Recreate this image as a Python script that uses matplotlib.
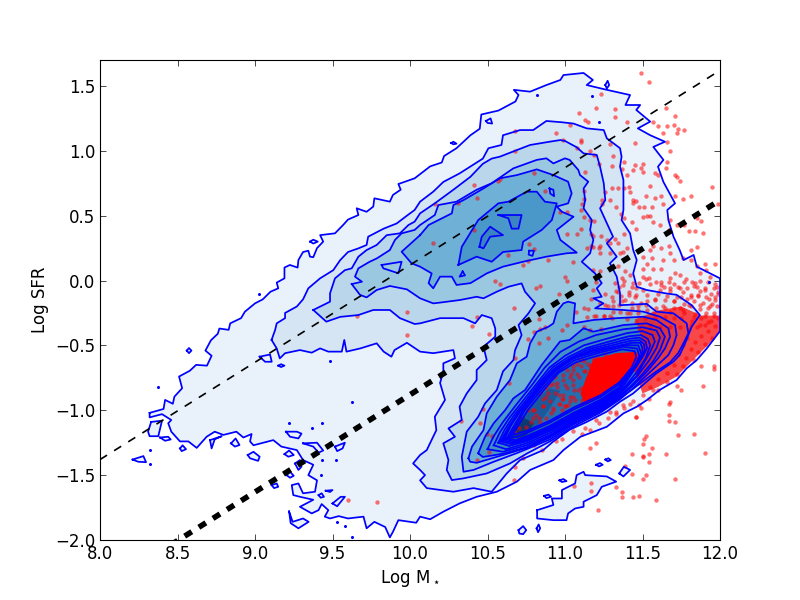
import numpy as np
import matplotlib
matplotlib.use('Agg')
import matplotlib.pyplot as plt

plt.rcParams['lines.scale_dashes'] = False
plt.rcParams['font.size'] = 12
plt.rcParams['mathtext.default'] = 'regular'
plt.rcParams['xtick.direction'] = 'in'
plt.rcParams['ytick.direction'] = 'in'
plt.rcParams['xtick.top'] = True
plt.rcParams['ytick.right'] = True

# Outlines, (log mass, log sfr)
level1 = [(8.32,-1.02),(8.41,-0.99),(8.42,-0.92),(8.47,-0.95),(8.48,-0.895),(8.53,-0.83),(8.51,-0.74),(8.58,-0.695),(8.62,-0.65),(8.69,-0.656),
    (8.72,-0.58),(8.68,-0.54),(8.716,-0.46),(8.76,-0.41),(8.77,-0.37),(8.83,-0.38),(8.84,-0.33),(8.91,-0.29),(8.935,-0.24),(9.0,-0.176),(9.05,-0.145),
    (9.10,-0.086),(9.15,-0.06),(9.14,-0.016),(9.19,0.017),(9.19,0.10),(9.225,0.12),(9.275,0.10),(9.28,0.158),(9.31,0.22),(9.344,0.23),(9.355,0.184),
    (9.376,0.18),(9.40,0.25),(9.44,0.30),(9.42,0.35),(9.516,0.364),(9.57,0.43),(9.60,0.47),(9.667,0.505),(9.656,0.557),(9.72,0.53),(9.763,0.57),
    (9.77,0.634),(9.87,0.608),(9.89,0.66),(9.94,0.70),(9.925,0.744),(10.03,0.788),(10.065,0.82),(10.13,0.88),(10.205,0.91),(10.22,0.96),(10.30,1.02),
    (10.39,1.12),(10.45,1.17),(10.46,1.28),(10.57,1.31),(10.68,1.38),(10.70,1.43),(10.67,1.47),(10.775,1.456),(10.88,1.507),(10.97,1.546),(10.99,1.584),
    (11.12,1.60),(11.18,1.546),(11.14,1.507),(11.27,1.47),(11.42,1.43),(11.39,1.353),(11.485,1.353),(11.46,1.315),(11.55,1.225),(11.47,1.173),(11.55,1.12),
    (11.645,1.07),(11.57,1.03),(11.635,0.93),(11.60,0.878),(11.635,0.76),(11.71,0.595),(11.66,0.544),(11.667,0.466),(11.70,0.338),(11.74,0.235),
    (11.765,0.158),(11.83,0.197),(11.85,0.107),(11.915,0.068),(12.0,0.017),(12.0,-0.39),(11.915,-0.523),(11.85,-0.613),(11.785,-0.677),(11.72,-0.767),
    (11.61,-0.844),(11.53,-0.92),(11.463,-0.973),(11.377,-1.024),(11.27,-1.127),(11.1,-1.204),(10.99,-1.307),(10.925,-1.384),(10.775,-1.46),(10.69,-1.55),
    (10.56,-1.628),(10.43,-1.667),(10.32,-1.718),(10.215,-1.782),(10.13,-1.84),(10.065,-1.82),(10.04,-1.867),(9.925,-1.847),(9.89,-1.937),(9.87,-1.98),
    (9.84,-1.90),(9.77,-1.86),(9.72,-1.91),(9.70,-1.82),(9.60,-1.834),(9.54,-1.816),(9.484,-1.834),(9.45,-1.82),(9.473,-1.77),(9.43,-1.723),(9.41,-1.77),
    (9.366,-1.795),(9.29,-1.744),(9.376,-1.69),(9.29,-1.667),(9.247,-1.654),(9.237,-1.577),(9.28,-1.564),(9.31,-1.64),(9.387,-1.628),(9.40,-1.54),
    (9.344,-1.5),(9.376,-1.42),(9.31,-1.384),(9.27,-1.307),(9.17,-1.28),(9.118,-1.23),(8.99,-1.27),(8.968,-1.24),(8.978,-1.183),(8.925,-1.21),(8.88,-1.165),
    (8.796,-1.19),(8.74,-1.165),(8.688,-1.204),(8.624,-1.29),(8.57,-1.24),(8.516,-1.24),(8.46,-1.165),(8.44,-1.10),(8.46,-1.075),(8.40,-1.03),(8.32,-1.055)]

level2 = [(9.107,-0.458),(9.13,-0.38),(9.14,-0.33),(9.194,-0.29),(9.194,-0.25),(9.27,-0.20),(9.31,-0.145),(9.344,-0.06),(9.42,0.017),(9.505,0.08),
    (9.55,0.158),(9.60,0.22),(9.667,0.248),(9.72,0.274),(9.73,0.338),(9.83,0.40),(9.914,0.44),(9.98,0.50),(10.03,0.544),(10.065,0.608),(10.15,0.685),
    (10.215,0.76),(10.32,0.826),(10.47,0.94),(10.506,1.02),(10.59,1.045),(10.60,1.12),(10.71,1.16),(10.795,1.16),(10.88,1.23),(10.98,1.22),(11.055,1.21),
    (11.14,1.173),(11.25,1.16),(11.27,1.096),(11.355,1.02),(11.365,0.955),(11.355,0.878),(11.377,0.775),(11.377,0.67),(11.377,0.544),(11.365,0.466),
    (11.42,0.363),(11.44,0.235),(11.463,0.158),(11.44,0.055),(11.463,-0.048),(11.527,-0.073),(11.656,-0.10),(11.72,-0.11),(11.817,-0.19),(11.87,-0.266),
    (11.817,-0.356),(11.775,-0.484),(11.74,-0.574),(11.70,-0.625),(11.59,-0.715),(11.527,-0.78),(11.44,-0.87),(11.355,-0.934),(11.27,-1.01),(11.14,-1.09),
    (11.03,-1.15),(10.925,-1.24),(10.86,-1.307),(10.71,-1.384),(10.624,-1.487),(10.527,-1.628),(10.41,-1.60),(10.28,-1.628),(10.108,-1.60),(10.065,-1.54),
    (10.097,-1.50),(10.065,-1.46),(10.02,-1.41),(10.065,-1.345),(10.108,-1.307),(10.17,-1.153),(10.16,-1.05),(10.226,-0.92),(10.194,-0.79),(10.215,-0.70),
    (10.215,-0.638),(10.29,-0.60),(10.28,-0.536),(10.15,-0.56),(10.065,-0.548),(9.98,-0.48),(9.90,-0.536),(9.88,-0.587),(9.83,-0.548),(9.785,-0.484),
    (9.68,-0.523),(9.59,-0.548),(9.576,-0.458),(9.56,-0.548),(9.473,-0.548),(9.42,-0.523),(9.366,-0.556),(9.29,-0.536),(9.194,-0.56),(9.16,-0.60),(9.14,-0.523)]

level3 = [(9.376,-0.227),(9.484,-0.163),(9.484,-0.099),(9.516,0.017),(9.58,0.08),(9.624,0.094),(9.667,0.184),(9.72,0.235),(9.785,0.274),(9.85,0.35),
    (9.935,0.364),(9.99,0.428),(10.03,0.454),(10.065,0.518),(10.16,0.595),(10.28,0.70),(10.39,0.80),(10.47,0.90),(10.527,0.94),(10.58,0.955),(10.69,1.006),
    (10.775,1.045),(10.90,1.07),(10.97,1.083),(11.0,1.076),(11.076,1.027),(11.12,0.98),(11.205,0.968),(11.226,0.878),(11.25,0.75),(11.26,0.62),(11.226,0.557),
    (11.29,0.39),(11.31,0.338),(11.27,0.287),(11.334,0.184),(11.29,0.133),(11.334,0.03),(11.355,-0.10),(11.355,-0.19),(11.527,-0.18),(11.59,-0.24),
    (11.70,-0.253),(11.785,-0.33),(11.796,-0.407),(11.764,-0.484),(11.73,-0.56),(11.678,-0.63),(11.59,-0.70),(11.50,-0.78),(11.40,-0.87),(11.35,-0.92),
    (11.226,-1.02),(11.054,-1.125),(10.903,-1.24),(10.752,-1.335),(10.645,-1.41),(10.495,-1.487),(10.345,-1.525),(10.27,-1.538),(10.237,-1.46),(10.248,-1.384),
    (10.215,-1.255),(10.29,-1.204),(10.248,-1.14),(10.334,-1.075),(10.32,-0.972),(10.366,-0.87),(10.43,-0.767),(10.43,-0.69),(10.495,-0.613),(10.474,-0.51),
    (10.55,-0.433),(10.55,-0.368),(10.527,-0.29),(10.463,-0.266),(10.42,-0.33),(10.345,-0.29),(10.194,-0.29),(10.065,-0.33),(10.03,-0.335),(9.935,-0.29),
    (9.87,-0.227),(9.763,-0.227),(9.667,-0.266),(9.55,-0.28),(9.46,-0.317)]

level4 = [(9.624,-0.027),(9.69,-0.009),(9.645,0.03),(9.667,0.094),(9.74,0.145),(9.785,0.17),(9.87,0.235),(9.903,0.313),(9.946,0.364),(10.03,0.39),(10.065,0.428),
    (10.16,0.505),(10.183,0.582),(10.30,0.608),(10.43,0.70),(10.527,0.75),(10.667,0.865),(10.818,0.93),(10.88,0.942),(10.925,0.903),(11.0,0.942),(11.03,0.93),
    (11.086,0.852),(11.097,0.813),(11.15,0.762),(11.12,0.71),(11.13,0.62),(11.12,0.557),(11.173,0.466),(11.162,0.39),(11.183,0.313),(11.162,0.21),(11.108,0.145),
    (11.194,0.055),(11.237,-0.02),(11.205,-0.06),(11.237,-0.125),(11.183,-0.137),(11.248,-0.176),(11.194,-0.214),(11.377,-0.227),(11.505,-0.24),(11.613,-0.279),
    (11.71,-0.343),(11.72,-0.42),(11.70,-0.497),(11.667,-0.574),(11.59,-0.66),(11.50,-0.76),(11.43,-0.84),(11.35,-0.91),(11.226,-1.01),(11.054,-1.11),(10.903,-1.225),
    (10.752,-1.30),(10.69,-1.33),(10.54,-1.397),(10.41,-1.46),(10.345,-1.474),(10.334,-1.358),(10.366,-1.165),(10.44,-1.05),(10.484,-0.947),(10.56,-0.844),
    (10.60,-0.70),(10.667,-0.613),(10.678,-0.536),(10.72,-0.42),(10.70,-0.343),(10.764,-0.253),(10.807,-0.176),(10.742,-0.086),(10.72,-0.022),(10.635,-0.048),
    (10.56,-0.086),(10.474,-0.137),(10.43,-0.125),(10.323,-0.15),(10.194,-0.17),(10.15,-0.176),(10.065,-0.137),(9.98,-0.068),(9.87,-0.042),(9.785,-0.073),
    (9.72,-0.13),(9.677,-0.11)]

level5_band = [(10.065,0.35),(10.12,0.428),(10.27,0.518),(10.28,0.582),(10.345,0.62),(10.474,0.71),(10.58,0.788),(10.69,0.813),(10.818,0.857),(10.925,0.813),
    (11.02,0.762),(11.043,0.672),(11.02,0.595),(10.947,0.57),(10.98,0.53),(11.055,0.492),(11.0,0.44),(10.947,0.39),(10.97,0.313),(11.076,0.215),(11.01,0.21),
    (10.88,0.184),(10.73,0.145),(10.6,0.107),(10.495,0.055),(10.39,-0.02),(10.30,-0.034),(10.27,0.03),(10.194,0.03),(10.15,-0.06),(10.12,-0.02),(10.14,0.055),
    (10.065,0.107),(10.01,0.133),(9.946,0.222)]

level6_band = [(10.312,0.12),(10.334,0.26),(10.44,0.466),(10.57,0.595),(10.635,0.608),(10.753,0.685),(10.818,0.685),(10.87,0.608),(10.947,0.595),(10.915,0.466),
    (10.85,0.39),(10.73,0.30),(10.72,0.235),(10.6,0.22),(10.527,0.145),(10.43,0.184)]

level7_band_a = [(10.448,0.26),(10.463,0.338),(10.517,0.415),(10.6,0.35),(10.517,0.338),(10.474,0.248)]
level7_band_b = [(10.57,0.505),(10.72,0.505),(10.70,0.40),(10.656,0.40),(10.635,0.48)]

level5_blob = [(10.377,-1.37),(10.40,-1.28),(10.474,-1.153),(10.495,-1.024),(10.56,-0.895),(10.645,-0.767),(10.689,-0.638),(10.753,-0.587),(10.775,-0.484),
    (10.818,-0.394),(10.893,-0.356),(10.925,-0.33),(10.947,-0.24),(10.99,-0.176),(11.02,-0.163),(11.065,-0.176),(11.054,-0.33),(11.183,-0.304),(11.334,-0.29),
    (11.505,-0.279),(11.59,-0.304),(11.667,-0.368),(11.678,-0.433),(11.645,-0.523),(11.60,-0.60),(11.53,-0.70),(11.44,-0.81),(11.35,-0.90),(11.226,-1.00),
    (11.054,-1.10),(10.903,-1.21),(10.752,-1.29),(10.6,-1.345),(10.43,-1.405),(10.388,-1.397)]

level6_blob = [(10.44,-1.332),(10.484,-1.204),(10.54,-1.10),(10.613,-1.0),(10.667,-0.908),(10.742,-0.844),(10.85,-0.65),(10.968,-0.47),(11.03,-0.458),(11.12,-0.368),
    (11.183,-0.394),(11.377,-0.343),(11.527,-0.33),(11.613,-0.368),(11.645,-0.433),(11.613,-0.536),(11.57,-0.62),(11.50,-0.72),(11.42,-0.82),(11.35,-0.89),
    (11.226,-0.99),(11.054,-1.09),(10.903,-1.20),(10.752,-1.285),(10.6,-1.335),(10.47,-1.36)]

level7 = [(10.50,-1.30),(10.54,-1.20),(10.60,-1.09),(10.69,-0.95),(10.79,-0.80),(10.87,-0.67),(10.97,-0.55),(11.09,-0.47),(11.20,-0.42),(11.38,-0.375),(11.50,-0.36),
    (11.59,-0.385),(11.613,-0.44),(11.59,-0.52),(11.54,-0.62),(11.47,-0.73),(11.40,-0.82),(11.35,-0.88),(11.226,-0.98),(11.054,-1.08),(10.903,-1.19),(10.752,-1.27),(10.6,-1.32)]
level8 = [(10.54,-1.27),(10.58,-1.17),(10.64,-1.06),(10.72,-0.94),(10.82,-0.79),(10.90,-0.67),(11.0,-0.58),(11.12,-0.50),(11.25,-0.455),(11.40,-0.405),(11.50,-0.39),
    (11.565,-0.42),(11.58,-0.47),(11.55,-0.55),(11.50,-0.65),(11.46,-0.74),(11.40,-0.81),(11.35,-0.87),(11.226,-0.97),(11.054,-1.07),(10.903,-1.175),(10.752,-1.255),(10.62,-1.30)]
level9 = [(10.57,-1.25),(10.61,-1.15),(10.67,-1.04),(10.75,-0.92),(10.84,-0.78),(10.92,-0.67),(11.02,-0.59),(11.14,-0.52),(11.27,-0.475),(11.41,-0.43),(11.49,-0.42),
    (11.535,-0.45),(11.55,-0.50),(11.52,-0.60),(11.46,-0.71),(11.40,-0.80),(11.35,-0.86),(11.226,-0.96),(11.054,-1.06),(10.903,-1.16),(10.752,-1.24),(10.64,-1.275)]
level10 = [(10.585,-1.24),(10.63,-1.14),(10.69,-1.03),(10.77,-0.91),(10.85,-0.78),(10.93,-0.68),(11.03,-0.60),(11.15,-0.53),(11.28,-0.49),(11.41,-0.45),(11.48,-0.44),
    (11.52,-0.47),(11.53,-0.52),(11.50,-0.59),(11.44,-0.70),(11.39,-0.79),(11.35,-0.85),(11.226,-0.95),(11.054,-1.05),(10.903,-1.15),(10.752,-1.23),(10.65,-1.26)]
level11 = [(10.60,-1.23),(10.64,-1.13),(10.70,-1.02),(10.78,-0.90),(10.86,-0.78),(10.94,-0.68),(11.04,-0.605),(11.16,-0.54),(11.30,-0.50),(11.42,-0.465),(11.48,-0.46),
    (11.51,-0.49),(11.515,-0.535),(11.49,-0.60),(11.43,-0.70),(11.38,-0.785),(11.35,-0.84),(11.226,-0.94),(11.054,-1.04),(10.903,-1.14),(10.752,-1.22),(10.66,-1.25)]
level12 = [(10.61,-1.22),(10.65,-1.12),(10.71,-1.01),(10.79,-0.89),(10.87,-0.775),(10.945,-0.685),(11.045,-0.605),(11.17,-0.545),(11.32,-0.51),(11.43,-0.48),(11.485,-0.48),
    (11.50,-0.52),(11.50,-0.56),(11.47,-0.62),(11.42,-0.71),(11.37,-0.78),(11.35,-0.83),(11.226,-0.93),(11.054,-1.03),(10.903,-1.13),(10.752,-1.21),(10.67,-1.24)]
level13 = [(10.624,-1.217),(10.73,-0.998),(10.86,-0.80),(10.946,-0.69),(11.054,-0.60),(11.204,-0.548),(11.376,-0.497),(11.473,-0.50),(11.494,-0.57),(11.46,-0.66),
    (11.35,-0.82),(11.226,-0.92),(11.054,-1.02),(10.903,-1.12),(10.752,-1.20),(10.68,-1.23)]
level14 = [(10.64,-1.21),(10.74,-1.0),(10.87,-0.81),(10.955,-0.70),(11.06,-0.615),(11.21,-0.56),(11.376,-0.51),(11.465,-0.525),(11.48,-0.58),(11.45,-0.66),
    (11.35,-0.80),(11.226,-0.90),(11.054,-0.995),(10.903,-1.095),(10.752,-1.175),(10.69,-1.205)]
level15 = [(10.66,-1.19),(10.76,-1.0),(10.88,-0.82),(10.96,-0.71),(11.07,-0.63),(11.21,-0.58),(11.37,-0.53),(11.45,-0.545),(11.46,-0.59),(11.43,-0.67),
    (11.35,-0.785),(11.226,-0.885),(11.054,-0.98),(10.903,-1.08),(10.752,-1.16)]

core_mid = [(10.62,-1.23),(10.68,-1.09),(10.78,-0.95),(10.90,-0.83),(10.97,-0.85),(10.90,-0.99),(10.78,-1.19),(10.68,-1.23)]
core_tip = [(10.62,-1.23),(10.66,-1.13),(10.72,-1.05),(10.80,-1.10),(10.75,-1.2)]

islands = [[(8.33,-1.09),(8.40,-1.08),(8.376,-1.20),(8.32,-1.20),(8.31,-1.165)],
    [(8.387,-1.21),(8.44,-1.204),(8.456,-1.225),(8.42,-1.235)],
    [(8.516,-1.294),(8.533,-1.27),(8.555,-1.30),(8.527,-1.315)],
    [(8.21,-1.38),(8.28,-1.353),(8.297,-1.40),(8.247,-1.397)],
    [(8.71,-1.23),(8.785,-1.2),(8.74,-1.224),(8.72,-1.294)],
    [(8.845,-1.255),(8.875,-1.217),(8.90,-1.268),(8.87,-1.28)],
    [(8.953,-1.345),(8.99,-1.32),(9.03,-1.358),(9.02,-1.39),(8.968,-1.37)],
    [(9.19,-1.338),(9.22,-1.31),(9.25,-1.345),(9.215,-1.358)],
    [(9.2,-1.165),(9.27,-1.165),(9.30,-1.18),(9.28,-1.217),(9.226,-1.204)],
    [(9.31,-1.255),(9.40,-1.25),(9.44,-1.31),(9.41,-1.327),(9.376,-1.28)],
    [(9.516,-1.28),(9.58,-1.25),(9.565,-1.294),(9.53,-1.315)],
    [(9.258,-1.41),(9.29,-1.384),(9.30,-1.435),(9.28,-1.46)],
    [(9.204,-1.50),(9.226,-1.474),(9.25,-1.505),(9.226,-1.52)],
    [(9.107,-1.577),(9.14,-1.564),(9.15,-1.59),(9.123,-1.60)],
    [(9.22,-1.78),(9.243,-1.86),(9.31,-1.834),(9.346,-1.86),(9.28,-1.91),(9.23,-1.87)],
    [(9.50,-1.718),(9.553,-1.667),(9.58,-1.667),(9.53,-1.74)],
    [(9.41,-1.654),(9.43,-1.64),(9.445,-1.667),(9.424,-1.674)],
    [(9.456,-1.62),(9.5,-1.615),(9.484,-1.63)],
    [(9.03,-0.587),(9.097,-0.57),(9.108,-0.626),(9.065,-0.626)],
    [(8.56,-0.54),(8.574,-0.52),(8.59,-0.54),(8.574,-0.56)],
    [(9.15,-0.656),(9.168,-0.645),(9.19,-0.656),(9.168,-0.667)],
    [(9.355,0.30),(9.376,0.315),(9.405,0.30),(9.376,0.285)],
    [(10.265,1.06),(10.28,1.07),(10.30,1.055),(10.28,1.05)],
    [(10.49,1.23),(10.52,1.25),(10.53,1.21),(10.50,1.215)],
    [(11.26,1.507),(11.275,1.54),(11.285,1.507),(11.27,1.48)],
    [(10.82,-1.77),(10.925,-1.73),(10.915,-1.68),(10.98,-1.68),(10.98,-1.615),(11.065,-1.564),(11.075,-1.5),(11.12,-1.474),(11.13,-1.5),(11.27,-1.51),
     (11.33,-1.55),(11.237,-1.59),(11.205,-1.654),(11.12,-1.705),(11.12,-1.744),(11.065,-1.757),(11.02,-1.795),(11.01,-1.847),(10.925,-1.847),(10.82,-1.834)],
    [(11.35,-1.487),(11.38,-1.435),(11.42,-1.46),(11.377,-1.51)],
    [(10.70,-1.924),(10.73,-1.893),(10.75,-1.924),(10.73,-1.955),(10.705,-1.95)],
    [(10.817,-1.91),(10.83,-1.88),(10.84,-1.91),(10.826,-1.94)],
    [(10.865,-1.66),(10.893,-1.65),(10.91,-1.667),(10.88,-1.677)],
    [(10.964,-1.54),(10.99,-1.53),(11.01,-1.546),(10.98,-1.553)],
    [(11.2,-1.42),(11.226,-1.407),(11.243,-1.42),(11.22,-1.433)],
    [(11.26,-1.38),(11.28,-1.37),(11.295,-1.384),(11.276,-1.394)]]

# single small specks inside and around the outer contour
speck_x = [8.376,9.484,9.624,9.217,9.37,9.43,9.43,9.523,9.424,8.32,9.527,9.58,9.624,9.028,10.82,11.175,11.22,11.93,8.325]
speck_y = [-0.818,-0.62,-0.94,-1.10,-1.14,-1.10,-1.38,-1.38,-1.5,-1.417,-1.86,-1.893,-1.975,-0.1,1.43,1.42,1.22,-0.01,-1.305]

band_holes = [[(9.817,0.12),(9.946,0.145),(9.925,0.056),(9.828,0.094)],
    [(10.9,0.71),(10.925,0.70),(10.93,0.65),(10.905,0.67)],
    [(10.77,0.23),(10.80,0.23),(10.79,0.19),(10.765,0.20)],
    [(10.34,0.07),(10.32,0.03),(10.355,0.04)]]

red_pts = [(11.49,1.60),(11.54,1.53),(11.23,1.44),(11.20,1.33),(11.32,1.32),(11.09,1.29),(11.13,1.24),(11.15,1.22),(11.32,1.26),(11.40,1.22),(11.65,1.33),(11.71,1.27),
    (11.57,1.22),(11.60,1.19),(11.66,1.19),(11.70,1.20),(11.73,1.17),(11.77,1.16),(11.72,1.14),(11.63,1.14),(11.45,1.06),(11.66,1.07),(11.68,1.00),(11.29,1.05),(11.10,1.08),
    (11.10,1.07),(10.99,1.08),(11.03,1.20),(10.94,1.14),(10.68,1.15),(10.68,1.00),(11.08,1.02),(11.16,1.00),(11.19,0.97),(11.31,0.96),(11.30,0.88),(11.22,0.90),(11.13,0.84),
    (11.37,0.86),(11.38,0.91),(11.45,0.89),(11.50,0.90),(11.49,0.87),(11.50,0.84),(11.44,0.85),(11.40,0.81),(11.58,0.83),(11.60,0.81),(11.65,0.87),(11.66,0.91),(11.71,0.81),
    (11.72,0.80),(11.74,0.77),(11.95,0.72),(11.55,0.73),(11.30,0.71),(11.34,0.71),(11.38,0.71),(11.41,0.72),(11.42,0.68),(11.26,0.68),(11.12,0.69),(11.12,0.63),(11.11,0.59),
    (11.10,0.54),(11.12,0.49),(11.16,0.47),(11.19,0.46),(11.44,0.62),(11.44,0.60),(11.46,0.61),(11.48,0.57),(11.51,0.57),(11.52,0.65),(11.58,0.64),(11.62,0.65),(11.71,0.65),
    (11.76,0.63),(11.81,0.65),(11.99,0.59),(11.63,0.59),(11.56,0.57),(11.55,0.50),(11.53,0.50),(11.50,0.49),(11.68,0.47),(11.77,0.43),(11.85,0.48),(11.88,0.46),(11.80,0.38),
    (11.84,0.38),(11.89,0.37),(11.24,0.59),(11.24,0.62),(11.29,0.62),(11.33,0.57),(11.36,0.51),(11.38,0.48),(11.43,0.45),(11.46,0.40),(11.57,0.45),(11.61,0.43),(11.67,0.39),
    (11.72,0.43),(11.01,0.36),(11.08,0.36),(11.10,0.40),(11.17,0.36),(11.18,0.34),(11.23,0.34),(11.27,0.31),(11.32,0.32),(11.38,0.36),(11.01,0.53),(10.97,0.53),(10.58,0.78),
    (10.57,0.77),(10.41,0.74),(10.43,0.64),(10.31,0.60),(10.16,0.59),(10.15,0.29),(10.41,0.39),(10.80,0.83),(10.87,0.69),(10.77,0.28),(10.80,0.24),(10.63,0.20),(10.89,0.16),
    (10.76,0.15),(10.73,0.12),(10.55,0.00),(10.58,-0.03),(11.05,0.14),(11.0,0.03),(11.01,0.0),(10.84,-0.04),(10.81,-0.06),(10.96,-0.10),(11.14,0.25),(11.18,0.26),(11.22,0.25),
    # lower sparse part
    (11.96,-0.66),(11.96,-0.68),(11.89,-0.81),(11.875,-0.66),(11.75,-0.84),(11.72,-0.81),(11.67,-0.95),(11.68,-0.94),(11.67,-1.04),(11.67,-1.08),(11.71,-1.09),(11.73,-1.19),
    (11.83,-1.18),(11.52,-1.20),(11.51,-1.22),(11.50,-1.26),(11.56,-1.29),(11.90,-1.33),(11.65,-1.34),(11.54,-1.34),(11.50,-1.35),(11.50,-1.36),(11.54,-1.40),(11.43,-1.34),
    (11.39,-1.43),(11.43,-1.49),(11.52,-1.50),(11.50,-1.53),(11.71,-1.53),(11.17,-1.56),(11.17,-1.62),(11.33,-1.59),(11.37,-1.63),(11.37,-1.67),(11.44,-1.67),(11.48,-1.66),
    (11.59,-1.69),(11.21,-1.77),(11.06,-1.58),(11.16,-1.29),(11.20,-1.25),(11.46,-1.05),(10.67,-1.54),(10.68,-1.44),(10.43,-1.38),(10.51,-1.32),(10.53,-1.20),(10.495,-1.18),
    (10.45,-1.10),(10.33,-1.08),(10.47,-0.99),(10.64,-0.79),(10.68,-0.60),(10.40,-0.35),(10.43,-0.28),(10.51,-0.41),(10.67,-0.21),(10.83,-0.30),(10.80,-0.40),(10.76,-0.45),
    (10.84,-0.37),(10.87,-0.36),(11.07,-0.24),(11.12,-0.21),(11.15,-0.22),(11.20,-0.27),(11.25,-0.27),(11.29,-0.27),(11.14,-0.28),(11.12,-0.355),(11.16,-0.38),(11.23,-0.37),
    (11.01,-0.34),(10.98,-0.38),(10.89,-0.445),(10.83,-0.48),(10.85,-1.31),(10.94,-1.24),(10.80,-1.27),(10.73,-1.37),(9.60,-1.69),(9.79,-1.71),(9.98,-0.42),(9.98,-0.24),
    (9.66,-0.27),
    # on the ridge
    (10.80,-1.0),(10.86,-0.97),(10.81,-1.04),(10.76,-1.0),(10.71,-1.05),(10.89,-0.87),(10.95,-0.82),(10.99,-0.77),(11.01,-0.69),(11.075,-0.64),(11.12,-0.70),(10.97,-0.95),
    (11.03,-0.90),(10.925,-0.985),(11.0,-0.97),(10.88,-0.83),(10.84,-0.87),(10.935,-0.74),(11.01,-0.83),(11.05,-0.77),(11.10,-0.83),(11.14,-0.77),(11.065,-0.92),(10.75,-1.13),
    (10.90,-0.93),(10.96,-0.88),(11.04,-0.72),(11.06,-0.84),(10.83,-1.06),(10.78,-1.09),(10.91,-1.02),(10.98,-1.0),(11.02,-0.96),(10.86,-0.91),(10.92,-0.80),(10.99,-0.91),
    (11.12,-0.62),(11.16,-0.66),(11.19,-0.60),(11.08,-0.72),(11.13,-0.90),(11.18,-0.86),(11.05,-0.66),(11.11,-0.92),(10.70,-1.14),(10.68,-1.17),
    (11.05,-0.69),(11.10,-0.66),(11.03,-0.74),(11.09,-0.74),(11.13,-0.70),(11.16,-0.75),(10.99,-0.73),(10.95,-0.79),(11.0,-0.805),(11.05,-0.805),(10.90,-0.805),(10.86,-0.79),
    (10.935,-0.87),(10.99,-0.88),(10.88,-0.895),(11.05,-0.895),(11.10,-0.95),(10.96,-0.95),(11.0,-0.97),(10.86,-0.97),(10.795,-0.998),(10.925,-0.998),(10.84,-1.09),(10.795,-1.06),
    (10.88,-1.06),(10.98,-0.91),(11.03,-0.93),(11.13,-0.82),(11.17,-0.84),(11.085,-0.84),(11.20,-0.79),(11.235,-0.73),(11.28,-0.66),(11.215,-0.66),(11.29,-0.74),(11.25,-0.82),
    (11.18,-0.895),(11.15,-0.64),(11.10,-0.61),(11.215,-0.60),(11.26,-0.57),(11.2,-1.075),(11.33,-1.01),(11.42,-0.95),(11.57,-0.84),(11.46,-1.05),(11.49,-0.985),(11.376,-0.96),
    (11.29,-1.01),(11.13,-1.14),
    # the busy patch above the ridge
    (11.57,0.27),(11.55,0.235),(11.62,0.25),(11.68,0.21),(11.67,0.27),(11.505,0.18),(11.56,0.17),(11.63,0.16),(11.70,0.16),(11.76,0.17),(11.81,0.235),(11.85,0.26),(11.81,0.16),
    (11.85,0.11),(11.90,0.13),(11.97,0.13),(11.91,0.08),(11.87,0.055),(11.53,0.13),(11.505,0.09),(11.57,0.09),(11.62,0.09),(11.71,0.055),(11.74,0.04),(11.68,0.02),(11.59,-0.01),
    (11.62,-0.035),(11.67,-0.01),(11.505,0.03),(11.54,0.02),(11.48,-0.02),(11.77,-0.01),(11.82,-0.01),(11.87,0.0),(11.935,0.03),(11.785,-0.06),(11.85,-0.05),(11.90,-0.06),
    (11.96,-0.06),(11.99,-0.10),(11.68,-0.06),(11.73,-0.05),(11.61,-0.07),(11.376,0.22),(11.355,0.21),(11.40,0.25),(11.29,0.21),(11.225,0.21),(11.34,0.11),(11.39,0.07),(11.42,0.04),
    (11.365,0.02),(11.32,-0.02),(11.376,-0.035),(11.43,-0.05),(11.46,-0.11),(11.41,-0.11),(11.34,-0.09),(11.30,-0.125),(11.26,-0.10),(11.225,-0.175),(11.26,-0.19),(11.31,-0.20),
    (11.365,-0.16),(11.43,-0.175),(11.47,-0.20),(11.53,-0.16),(11.58,-0.14),(11.645,-0.15),(11.70,-0.16),(11.75,-0.125),(11.81,-0.125),(11.86,-0.11),(11.91,-0.125),(11.97,-0.15),
    (12.0,-0.20),(11.935,-0.20),(11.87,-0.19),(11.81,-0.20),(11.76,-0.23),(11.70,-0.215),(11.645,-0.215),(11.59,-0.215),(11.53,-0.23),(11.47,-0.25),(11.42,-0.25),(11.355,-0.24),
    (11.19,-0.27),(11.25,-0.27),(11.30,-0.29),(11.40,-0.30),(11.46,-0.32),(11.515,-0.29),(11.58,-0.29),(11.645,-0.28),(11.70,-0.29),(11.75,-0.29),(11.83,-0.28),(11.90,-0.27),
    (11.96,-0.25),(11.925,-0.32),(11.87,-0.34),(11.81,-0.34),(11.74,-0.36),(11.68,-0.36),(11.61,-0.36),(11.55,-0.34),(11.48,-0.37),(11.18,-0.07),(11.17,-0.14),(11.20,-0.01),
    (11.225,0.07),(11.18,0.08),(11.225,0.27),(11.17,0.27),(11.29,0.29),(11.34,0.29),
    # the thick cloud to the right
    (11.38,0.00),(11.44,-0.02),(11.52,0.01),(11.62,-0.01),(11.70,-0.03),(11.78,0.01),(11.84,-0.02),(11.92,-0.01),(11.97,-0.03),(11.35,-0.05),(11.46,-0.06),(11.55,-0.03),
    (11.64,-0.05),(11.74,-0.06),(11.83,-0.04),(11.90,-0.07),(11.98,-0.05),(11.33,-0.08),(11.41,-0.09),(11.50,-0.07),(11.60,-0.10),(11.68,-0.08),(11.76,-0.09),(11.81,-0.11),
    (11.87,-0.08),(11.94,-0.10),(11.99,-0.09),(11.36,-0.12),(11.45,-0.13),(11.53,-0.11),(11.66,-0.12),(11.72,-0.13),(11.79,-0.14),(11.86,-0.12),(11.93,-0.14),(11.97,-0.13),
    (11.31,-0.16),(11.39,-0.15),(11.49,-0.17),(11.58,-0.15),(11.70,-0.16),(11.77,-0.18),(11.83,-0.16),(11.89,-0.17),(11.95,-0.18),(11.28,-0.20),(11.35,-0.19),(11.43,-0.21),
    (11.52,-0.19),(11.63,-0.20),(11.74,-0.21),(11.80,-0.19),(11.87,-0.22),(11.92,-0.21),(11.98,-0.20),(11.31,-0.24),(11.40,-0.25),(11.47,-0.23),(11.57,-0.25),(11.68,-0.24),
    (11.77,-0.25),(11.84,-0.26),(11.91,-0.25),(11.96,-0.27),(11.88,-0.29),(11.94,-0.31),(11.99,-0.29),(11.82,-0.31),(11.90,-0.34),(11.97,-0.35),(11.85,-0.36),(11.92,-0.39),
    (11.80,-0.37),(11.88,-0.43),(11.95,-0.44),(11.79,-0.44),(11.84,-0.47),(11.90,-0.49),(11.76,-0.50),(11.81,-0.53),(11.86,-0.55),(11.73,-0.57),(11.78,-0.60),(11.83,-0.61),
    (11.70,-0.65),(11.76,-0.66),(11.66,-0.71),(11.72,-0.72),(11.60,-0.76),(11.66,-0.78),(11.55,-0.82),(11.60,-0.84),(11.50,-0.88),(11.54,-0.91),(11.44,-0.93),(11.48,-0.96),
    (11.38,-0.98),(11.33,-1.03),(11.28,-1.06),(11.22,-1.10),(11.16,-1.15),(11.11,-1.18),(11.05,-1.16),(10.98,-1.22)]

# the parts where the points merge into solid red
red_core = [(11.18,-0.61),(11.33,-0.56),(11.46,-0.55),(11.49,-0.61),(11.46,-0.69),(11.355,-0.79),(11.225,-0.895),(11.13,-0.96),(11.10,-0.87),(11.14,-0.74)]
red_cloud = [(11.45,-0.30),(11.60,-0.23),(11.75,-0.20),(11.88,-0.27),(12.0,-0.27),(12.0,-0.40),(11.92,-0.50),(11.82,-0.62),(11.72,-0.74),(11.6,-0.82),(11.5,-0.87),
    (11.45,-0.70),(11.5,-0.50),(11.48,-0.38)]

line_x = [8.0, 12.0]
thin_y = [-1.38, 1.62]
thick_y = [-2.38, 0.62]

xticks = [8.0, 8.5, 9.0, 9.5, 10.0, 10.5, 11.0, 11.5, 12.0]
yticks = [-2.0, -1.5, -1.0, -0.5, 0.0, 0.5, 1.0, 1.5]

outlines = [(level1,'#e9f2fa'),(level2,'#d5e5f4'),(level3,'#bad6eb'),(level4,'#9ac8e0'),(level5_band,'#6fb0d7'),(level5_blob,'#6fb0d7'),
    (level6_band,'#4a97c9'),(level6_blob,'#4a97c9'),(level7_band_a,'#3a85bf'),(level7_band_b,'#3a85bf'),(level7,'#4090c5'),(level8,'#3787c0'),
    (level9,'#2f7ebb'),(level10,'#2a77b6'),(level11,'#2672b3'),(level12,'#226eb0'),(level13,'#2069ab'),(level14,'#1f6aad'),(level15,'#2270b2')]


def closed(pts):
    xs, ys = zip(*pts)
    return list(xs) + [xs[0]], list(ys) + [ys[0]]


fig = plt.figure(figsize=(8, 6), dpi=100)
ax = fig.add_axes([0.125, 0.1, 0.775, 0.8])

for pts, col in outlines:
    xs, ys = closed(pts)
    ax.fill(xs, ys, color=col, lw=0, zorder=1)
for pts in islands:
    xs, ys = closed(pts)
    ax.fill(xs, ys, color='#e9f2fa', lw=0, zorder=1)
xs, ys = closed(core_mid)
ax.fill(xs, ys, color='#1a5a9c', lw=0, zorder=1)
xs, ys = closed(core_tip)
ax.fill(xs, ys, color='#0b3a72', lw=0, zorder=1)

xs, ys = closed(red_cloud)
ax.fill(xs, ys, color='red', alpha=0.7, lw=0, zorder=2)
xs, ys = closed(red_core)
ax.fill(xs, ys, color='red', lw=0, zorder=2)
red_x, red_y = zip(*red_pts)
ax.scatter(red_x, red_y, s=10, c='red', alpha=0.55, linewidths=0, zorder=2)

for pts, col in outlines:
    xs, ys = closed(pts)
    ax.plot(xs, ys, color='b', lw=1.25, zorder=3)
for pts in islands + band_holes:
    xs, ys = closed(pts)
    ax.plot(xs, ys, color='b', lw=1.25, zorder=3)
ax.plot(speck_x, speck_y, 'o', color='b', ms=2.2, mew=0, zorder=3)

ax.plot(line_x, thin_y, color='k', lw=1.2, dashes=(6, 6), dash_capstyle='butt', zorder=4)
ax.plot(line_x, thick_y, color='k', lw=4, dashes=(6, 6), dash_capstyle='butt', zorder=4)

ax.set_xlim(8.0, 12.0)
ax.set_ylim(-2.0, 1.7)
ax.set_xticks(xticks)
ax.set_yticks(yticks)
ax.set_xticklabels(['%.1f' % t for t in xticks])
ax.set_yticklabels(['\u2212%.1f' % abs(t) if t < 0 else '%.1f' % t for t in yticks])
ax.tick_params(length=4, width=0.5)
ax.set_xlabel(r'Log M$_\star$')
ax.set_ylabel('Log SFR')

fig.savefig('out.png', dpi=100)
